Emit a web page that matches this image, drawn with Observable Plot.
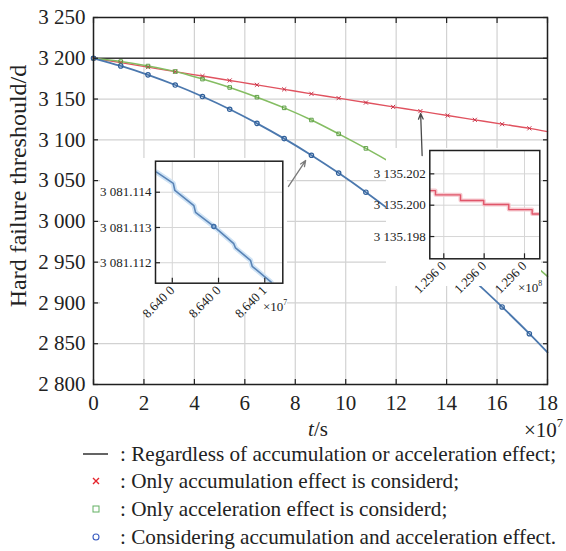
<!DOCTYPE html>
<html><head><meta charset="utf-8">
<script src="https://cdn.jsdelivr.net/npm/d3@7"></script>
<script src="https://cdn.jsdelivr.net/npm/@observablehq/plot@0.6"></script>
<style>
body{margin:0;background:#fff;}
#wrap{position:relative;width:566px;height:551px;font-family:'Liberation Serif','Times New Roman',serif;color:#222;overflow:hidden;background:#fff;}
#wrap svg{overflow:visible;}
#wrap svg text{font-family:'Liberation Serif','Times New Roman',serif;}
.abs{position:absolute;white-space:nowrap;line-height:1;}
</style></head><body><div id="wrap"></div>
<script>
// ---- main chart data (t in 10^7 s, threshold in d) ----
const tValues = [0, 1.08, 2.16, 3.24, 4.32, 5.40, 6.48, 7.56, 8.64, 9.72, 10.80, 11.88, 12.96, 14.04, 15.12, 16.20, 17.28, 18.00];
const regardless = [3200];
const accumulationOnly = [3200, 3194.6, 3189.1, 3183.6, 3178.2, 3172.8, 3167.4, 3161.9, 3156.4, 3151.1, 3145.7, 3140.4, 3135.2, 3129.8, 3124.5, 3119.2, 3114.1, 3110.0];
const accelerationOnly = [3200, 3196.0, 3190.5, 3183.8, 3174.5, 3164.2, 3152.3, 3139.2, 3124.3, 3107.3, 3089.5, 3070.5, 3050.0, 3027.5, 3004.0, 2978.5, 2951.5, 2932.5];
const bothEffects = [3200, 3190.6, 3179.7, 3167.2, 3153.1, 3137.5, 3120.2, 3101.5, 3081.1, 3059.2, 3035.8, 3010.7, 2984.1, 2955.9, 2926.4, 2895.1, 2862.3, 2839.3];
const xTicks = [0, 2, 4, 6, 8, 10, 12, 14, 16, 18];
const yTicks = [2800, 2850, 2900, 2950, 3000, 3050, 3100, 3150, 3200, 3250];

// annotation arrows (data coordinates)
const arrowFromT = [7.73, 13.03];
const arrowFromY = [3042.8, 3080.8];
const arrowToT = [8.41, 12.97];
const arrowToY = [3074.6, 3132.3];

// ---- inset 1 (zoom on combined effect near 8.640 0 ×10^7) ----
const inset1U = [-0.339, 0.022, 0.056, 0.467, 0.503, 0.898, 1.330, 1.367, 1.691, 1.728, 2.138];
const inset1Y = [3081.11457, 3081.11425, 3081.11405, 3081.11362, 3081.11343, 3081.11303, 3081.11254, 3081.11242, 3081.11207, 3081.11190, 3081.11145];
const inset1MarkU = [0.898];
const inset1MarkY = [3081.11303];
const inset1XTicks = [0, 1, 2];
const inset1XLabels = ["8.640 0", "8.640 0", "8.640 1"];
const inset1YTicks = [3081.112, 3081.113, 3081.114];

// ---- inset 2 (zoom on accumulation-only near 1.296 0 ×10^8) ----
const inset2U = [-0.347, -0.206, 0.414, 0.990, 1.610, 2.190, 2.379];
const inset2Y = [3135.20093, 3135.20066, 3135.20030, 3135.20004, 3135.19972, 3135.19944, 3135.19944];
const inset2XTicks = [0, 1, 2];
const inset2XLabels = ["1.296 0", "1.296 0", "1.296 0"];
const inset2YTicks = [3135.198, 3135.200, 3135.202];

const legendLabels = [
  ": Regardless of accumulation or acceleration effect;",
  ": Only accumulation effect is considerd;",
  ": Only acceleration effect is considerd;",
  ": Considering accumulation and acceleration effect."
];

// ---- helpers ----
const FONT = "Liberation Serif";
const spaceFmt = (spec) => (d) => d3.format(spec)(d).replace(/,/g, " ");
const rows = (xs, ys) => xs.map((t, i) => ({t, v: ys[i], i}));
const red = rows(tValues, accumulationOnly);
const green = rows(tValues, accelerationOnly);
const blue = rows(tValues, bothEffects);
const arrows = arrowFromT.map((t, i) => ({x1: t, y1: arrowFromY[i], x2: arrowToT[i], y2: arrowToY[i], i}));
const isMarker = (d) => d.i < tValues.length - 1;

const wrap = document.getElementById("wrap");
function place(el, left, top) {
  el.style.position = "absolute"; el.style.left = left + "px"; el.style.top = top + "px";
  wrap.appendChild(el);
}

const COL = {red: "#e0525f", green: "#84bd62", blue: "#4b78ae"};
const inTicks = (axis, ticks, anchor) => axis(ticks, {anchor, tickSize: -5, tickFormat: () => "", stroke: "#222", strokeWidth: 1.2});

const mainW = 566, mainH = 440, mL = 93, mR = 19, mT = 17, mB = 56;
const main = Plot.plot({
  width: mainW, height: mainH, marginLeft: mL, marginRight: mR, marginTop: mT, marginBottom: mB,
  style: {background: "transparent", fontFamily: FONT, fontSize: "21px", color: "#222"},
  x: {domain: [0, 18], label: null},
  y: {domain: [2800, 3250], label: null},
  marks: [
    Plot.gridX(xTicks, {stroke: "#d2d2d2", strokeOpacity: 1, strokeWidth: 1.2}),
    Plot.gridY(yTicks, {stroke: "#d2d2d2", strokeOpacity: 1, strokeWidth: 1.2}),
    Plot.ruleY(regardless, {stroke: "#3a3a3a", strokeWidth: 1.4}),
    Plot.line(red, {x: "t", y: "v", stroke: COL.red, strokeWidth: 1.4, curve: "monotone-x"}),
    Plot.line(green, {x: "t", y: "v", stroke: COL.green, strokeWidth: 1.6, curve: "monotone-x"}),
    Plot.line(blue, {x: "t", y: "v", stroke: COL.blue, strokeWidth: 1.8, curve: "monotone-x"}),
    Plot.dot(red, {filter: isMarker, x: "t", y: "v", symbol: "times", r: 2, stroke: "#c8344a", strokeWidth: 1}),
    Plot.dot(green, {filter: isMarker, x: "t", y: "v", symbol: "square", r: 2, stroke: "#5d9e45", strokeWidth: 1}),
    Plot.dot(blue, {filter: isMarker, x: "t", y: "v", symbol: "circle", r: 2.2, stroke: "#2f5f9a", strokeWidth: 1.2}),
    Plot.frame({stroke: "#1f1f1f", strokeWidth: 1.5}),
    inTicks(Plot.axisX, xTicks, "bottom"),
    inTicks(Plot.axisX, xTicks, "top"),
    inTicks(Plot.axisY, yTicks, "left"),
    inTicks(Plot.axisY, yTicks, "right"),
    Plot.axisX(xTicks, {anchor: "bottom", tickSize: 0, tickPadding: 11, fill: "#222", fontFamily: FONT, fontSize: 21}),
    Plot.axisY(yTicks, {anchor: "left", tickSize: 0, tickPadding: 8, tickFormat: spaceFmt(","), fill: "#222", fontFamily: FONT, fontSize: 21})
  ]
});
place(main, 0, 0);

// ---- inset 1 ----
const in1Left = 100, in1Top = 158, in1W = 187, in1H = 155;
const inset1 = Plot.plot({
  width: in1W, height: in1H, marginLeft: 55, marginRight: 4.7, marginTop: 2.7, marginBottom: 30.3,
  style: {background: "#fff", fontFamily: FONT, fontSize: "13px", color: "#222"},
  x: {domain: [-0.363, 2.39], label: null},
  y: {domain: [3081.11142, 3081.11488], label: null},
  marks: [
    Plot.gridX(inset1XTicks, {stroke: "#d6d6d6", strokeOpacity: 1, strokeWidth: 1}),
    Plot.gridY(inset1YTicks, {stroke: "#d6d6d6", strokeOpacity: 1, strokeWidth: 1}),
    Plot.line(rows(inset1U, inset1Y), {x: "t", y: "v", stroke: "#cfe3f5", strokeWidth: 5, clip: true}),
    Plot.line(rows(inset1U, inset1Y), {x: "t", y: "v", stroke: "#5a84b6", strokeWidth: 1.6, clip: true}),
    Plot.dot(rows(inset1MarkU, inset1MarkY), {x: "t", y: "v", r: 2, stroke: "#3f6fa8", fill: "#8fb3dc"}),
    Plot.frame({stroke: "#1f1f1f", strokeWidth: 1.5}),
    inTicks(Plot.axisX, inset1XTicks, "bottom"),
    inTicks(Plot.axisY, inset1YTicks, "left"),
    Plot.axisX(inset1XTicks, {anchor: "bottom", tickSize: 0, tickPadding: 5, tickRotate: -45, tickFormat: (d) => inset1XLabels[d], fill: "#222", fontFamily: FONT, fontSize: 13}),
    Plot.axisY(inset1YTicks, {anchor: "left", tickSize: 0, tickPadding: 4, tickFormat: spaceFmt(",.3f"), fill: "#222", fontFamily: FONT, fontSize: 13})
  ]
});
place(inset1, in1Left, in1Top);

// ---- inset 2 ----
const in2Left = 386, in2Top = 148, in2W = 155, in2H = 138;
const inset2 = Plot.plot({
  width: in2W, height: in2H, marginLeft: 43.3, marginRight: 1.7, marginTop: 2, marginBottom: 27.7,
  style: {background: "#fff", fontFamily: FONT, fontSize: "13px", color: "#222"},
  x: {domain: [-0.347, 2.379], label: null},
  y: {domain: [3135.19658, 3135.20349], label: null},
  marks: [
    Plot.gridX(inset2XTicks, {stroke: "#d6d6d6", strokeOpacity: 1, strokeWidth: 1}),
    Plot.gridY(inset2YTicks, {stroke: "#d6d6d6", strokeOpacity: 1, strokeWidth: 1}),
    Plot.line(rows(inset2U, inset2Y), {x: "t", y: "v", stroke: "#f6c9cf", strokeWidth: 4, curve: "step-after", clip: true}),
    Plot.line(rows(inset2U, inset2Y), {x: "t", y: "v", stroke: "#e0566a", strokeWidth: 1.4, curve: "step-after", clip: true}),
    Plot.frame({stroke: "#1f1f1f", strokeWidth: 1.5}),
    inTicks(Plot.axisX, inset2XTicks, "bottom"),
    inTicks(Plot.axisY, inset2YTicks, "left"),
    Plot.axisX(inset2XTicks, {anchor: "bottom", tickSize: 0, tickPadding: 5, tickRotate: -45, tickFormat: (d) => inset2XLabels[d], fill: "#222", fontFamily: FONT, fontSize: 13}),
    Plot.axisY(inset2YTicks, {anchor: "left", tickSize: 0, tickPadding: 4, tickFormat: spaceFmt(",.3f"), fill: "#222", fontFamily: FONT, fontSize: 13})
  ]
});
place(inset2, in2Left, in2Top);

// ---- arrows overlay (same scales as main) ----
const overlay = Plot.plot({
  width: mainW, height: mainH, marginLeft: mL, marginRight: mR, marginTop: mT, marginBottom: mB,
  style: {background: "transparent"},
  x: {domain: [0, 18], axis: null},
  y: {domain: [2800, 3250], axis: null},
  marks: [
    Plot.arrow(arrows, {filter: (d) => d.i === 0, x1: "x1", y1: "y1", x2: "x2", y2: "y2", stroke: "#7a7a7a", strokeWidth: 1.3, headLength: 7, headAngle: 45}),
    Plot.arrow(arrows, {filter: (d) => d.i === 1, x1: "x1", y1: "y1", x2: "x2", y2: "y2", stroke: "#4a4a4a", strokeWidth: 1.3, headLength: 7, headAngle: 45})
  ]
});
overlay.style.pointerEvents = "none";
place(overlay, 0, 0);

// ---- text overlays ----
function txt(html, left, top, size, extra) {
  const d = document.createElement("div");
  d.className = "abs";
  d.innerHTML = html;
  d.style.fontSize = size + "px";
  d.style.left = left + "px"; d.style.top = top + "px";
  if (extra) Object.assign(d.style, extra);
  wrap.appendChild(d);
  return d;
}
txt("Hard failure threshould/d", 18, 186, 24, {transform: "translate(-50%,-50%) rotate(-90deg)"});
txt("<i>t</i>/s", 318, 429, 21, {transform: "translate(-50%,-50%)"});
txt("×10<sup style='font-size:0.6em;vertical-align:0.75em'>7</sup>", 524, 429, 21, {transform: "translate(0,-50%)"});
txt("×10<sup style='font-size:0.6em;vertical-align:0.75em'>7</sup>", 263, 305.5, 13, {transform: "translate(0,-50%)"});
txt("×10<sup style='font-size:0.6em;vertical-align:0.75em'>8</sup>", 518, 286.5, 13, {transform: "translate(0,-50%)"});

// ---- legend ----
const legendY = [455, 482, 510, 538];
const symbols = [
  "<svg width='26' height='10'><line x1='0' y1='5' x2='25' y2='5' stroke='#222' stroke-width='1.4'/></svg>",
  "<svg width='26' height='10'><path d='M10,2L16,8M16,2L10,8' stroke='#e5242c' stroke-width='1.4'/></svg>",
  "<svg width='26' height='10'><rect x='10' y='2' width='6' height='6' fill='none' stroke='#62b062' stroke-width='1'/></svg>",
  "<svg width='26' height='10'><circle cx='13' cy='5' r='3' fill='none' stroke='#3a5cc0' stroke-width='1.1'/></svg>"
];
legendLabels.forEach((lab, i) => {
  txt(symbols[i], 83, legendY[i], 10, {transform: "translate(0,-50%)"});
  txt(lab, 120, legendY[i], 21.2, {transform: "translate(0,-50%)"});
});
</script></body></html>
